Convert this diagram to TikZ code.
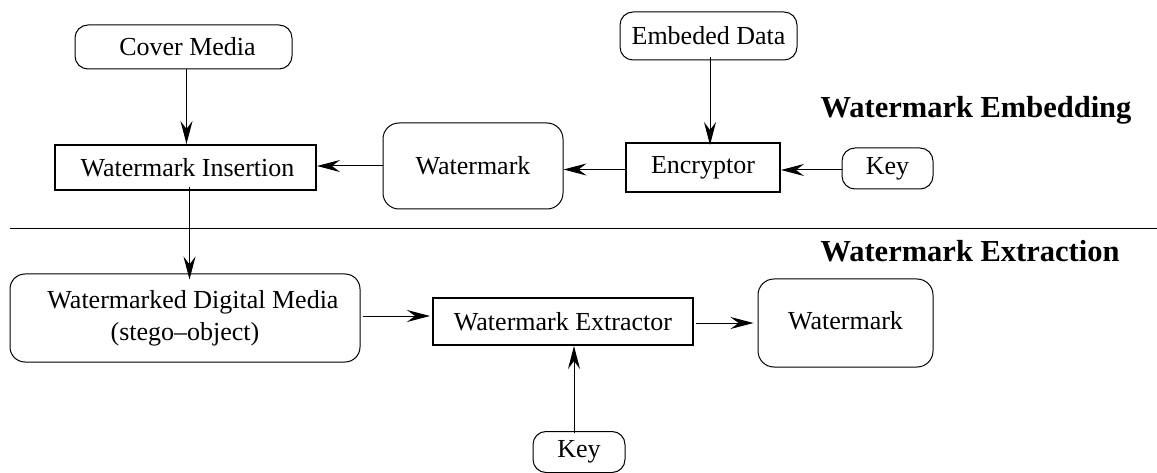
\documentclass[tikz,border=0pt]{standalone}
\usepackage{fontspec}
\setmainfont{Liberation Serif}
\usetikzlibrary{arrows.meta}
\begin{document}
\begin{tikzpicture}[x=1pt,y=-1pt,
  txt/.style={font=\fontsize{26}{32}\selectfont, inner sep=0pt, align=center},
  rbox/.style={txt, draw, line width=1pt, rounded corners=13pt},
  sbox/.style={txt, draw, line width=2pt},
  title/.style={font=\fontsize{30.5}{36}\selectfont\bfseries, inner sep=0pt},
  arr/.style={line width=1pt, -{Stealth[length=23pt, width=12pt, inset=8pt]}},
  rule/.style={line width=1pt}
]
\useasboundingbox (0,0) rectangle (1157,473);
% nodes
\node[rbox, minimum width=217pt, minimum height=44pt] (cover) at (183.5,47) {\hspace*{8pt}Cover Media};
\node[sbox, minimum width=261pt, minimum height=45pt] (ins) at (185.5,167.5) {\hspace*{4pt}Watermark Insertion};
\node[rbox, minimum width=180pt, minimum height=86pt, rounded corners=16pt] (wm1) at (473,166) {Watermark};
\node[sbox, minimum width=154pt, minimum height=49pt] (enc) at (703,167.5) {Encryptor};
\node[rbox, minimum width=177pt, minimum height=48pt] (emb) at (708.5,36) {Embeded Data};
\node[rbox, minimum width=91pt, minimum height=41pt] (key1) at (887.5,168.5) {Key};
\node[title] (t1) at (976,110) {Watermark Embedding};
\node[title] (t2) at (970,251) {Watermark Extraction};
\node[rbox, minimum width=350pt, minimum height=88pt, rounded corners=15pt] (wdm) at (185,318) {\hspace*{16pt}Watermarked Digital Media\\(stego--object)};
\node[sbox, minimum width=260pt, minimum height=47pt] (ext) at (563,321.5) {Watermark Extractor};
\node[rbox, minimum width=175pt, minimum height=88pt, rounded corners=16pt] (wm2) at (845.5,323) {\raisebox{5pt}{Watermark}};
\node[rbox, minimum width=92pt, minimum height=41pt] (key2) at (579,452) {Key};
% separator
\coordinate (rl) at (10,229);
\coordinate (rr) at (1157,229);
\draw[rule] (rl) -- (rr);
% connectors
\draw[arr] ([xshift=3pt]cover.south) -- ([xshift=3pt]cover.south |- ins.north);
\draw[arr] (wm1.west) -- (wm1.west -| ins.east);
\draw[arr] ([yshift=-2pt]enc.west) -- ([yshift=-2pt]enc.west -| wm1.east);
\draw[arr] ([xshift=1.5pt,yshift=3pt]emb.south) -- ([xshift=1.5pt,yshift=-3pt]emb.south |- enc.north);
\draw[arr] ([yshift=-1.5pt]key1.west) -- ([yshift=-1.5pt]key1.west -| enc.east);
\draw[arr] ([xshift=4pt,yshift=4pt]ins.south) -- ([xshift=4pt,yshift=-6pt]ins.south |- wdm.north);
\draw[arr] ([xshift=2pt,yshift=2pt]wdm.east) -- ([xshift=-2pt,yshift=2pt]wdm.east -| ext.west);
\draw[arr] ([xshift=2pt,yshift=-1.5pt]ext.east) -- ([xshift=-4pt,yshift=-1.5pt]ext.east -| wm2.west);
\draw[arr] ([xshift=-5pt,yshift=-2pt]key2.north) -- ([xshift=-5pt]key2.north |- ext.south);
\end{tikzpicture}
\end{document}
